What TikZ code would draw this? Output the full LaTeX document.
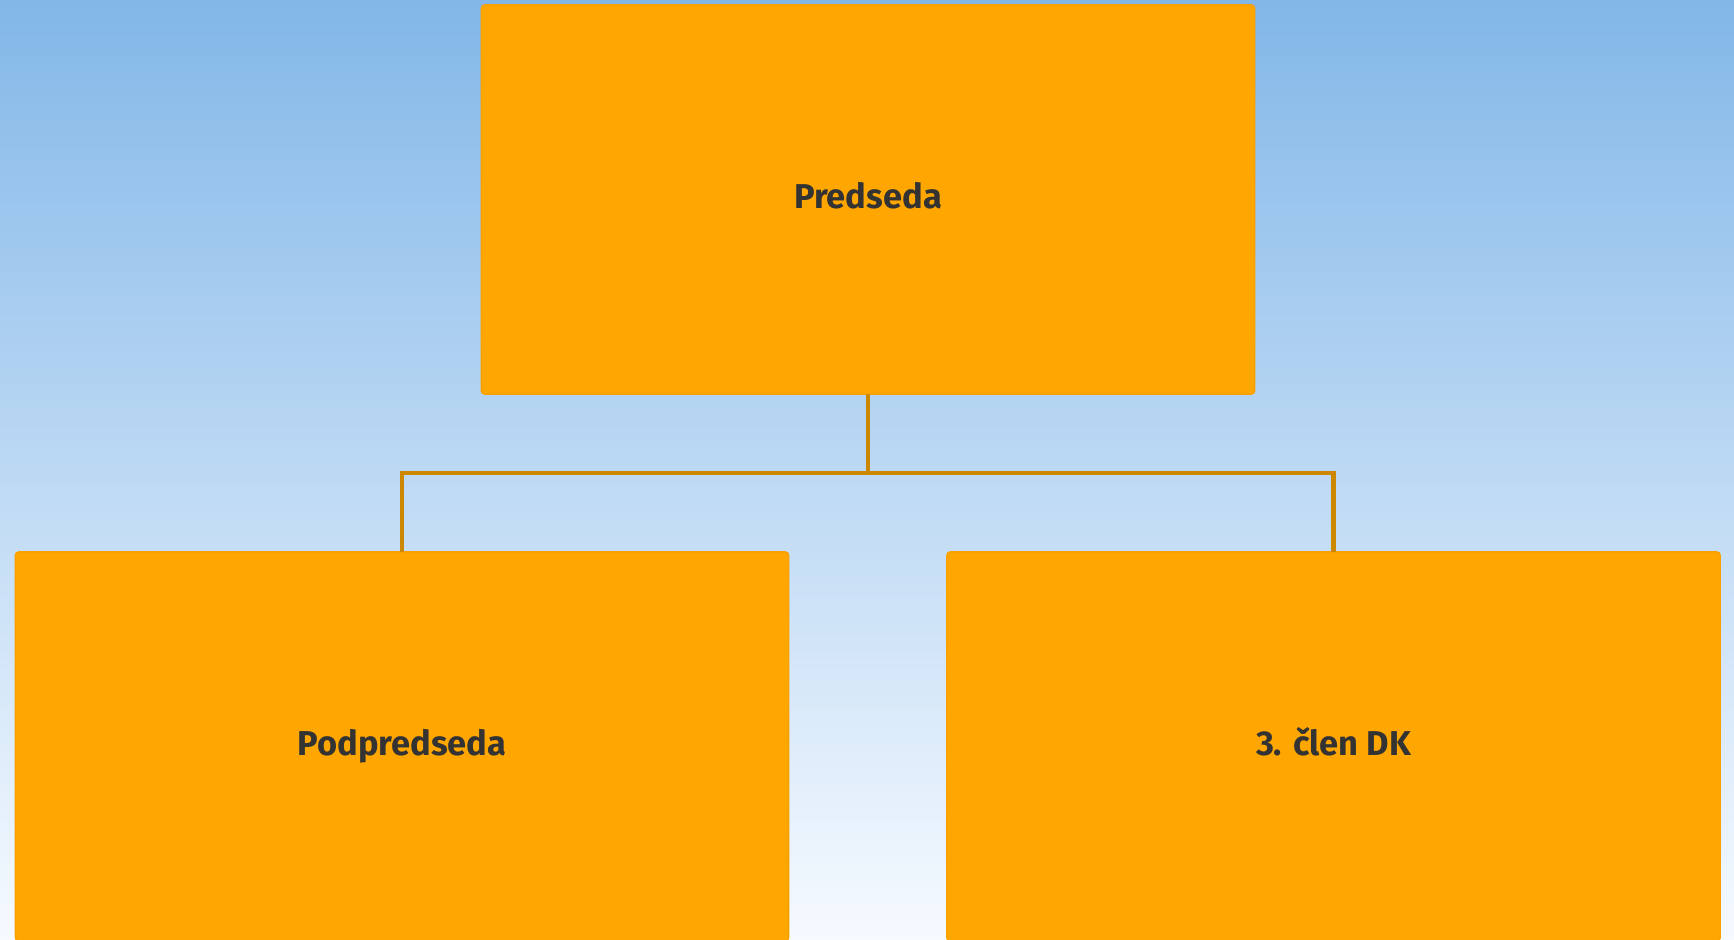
\documentclass[tikz,border=0pt]{standalone}
\usepackage{fontspec}
\setmainfont{Fira Sans}
\usepackage{tikz}
\usetikzlibrary{positioning, calc}
\definecolor{dkOrange}{RGB}{255,167,0}
\definecolor{dkEdge}{RGB}{250,160,0}
\definecolor{dkLink}{RGB}{204,136,0}
\definecolor{dkText}{RGB}{51,51,51}
\definecolor{skyTop}{RGB}{130,183,232}
\definecolor{skyBottom}{RGB}{246,250,255}

\begin{document}
\begin{tikzpicture}[
    x=0.01cm, y=-0.01cm,
    member/.style = {draw=dkEdge, fill=dkOrange, rounded corners=1pt,
                     line width=0.4pt, inner sep=0pt, outer sep=0pt,
                     minimum width=7.73cm, minimum height=3.89cm,
                     text height=7pt, text depth=2pt,
                     font=\fontsize{9.8}{11}\selectfont\bfseries,
                     text=dkText, align=center},
    link/.style   = {draw=dkLink, line width=1.4pt}
]

% Background sky gradient, also fixes the page size
\fill[top color=skyTop, bottom color=skyBottom]
    (0,0) rectangle (1734,939);
\useasboundingbox (0,0) rectangle (1734,939);

% Committee members
\node[member] (chair) at (868,199.5)   {Predseda};
\node[member] (vice)  at (402,746.5)   {Podpredseda};
\node[member] (third) at (1333.5,746.5) {3. člen DK};

% Tree connectors
\coordinate (bus) at (868,473);
\draw[link] (chair.south) -- (bus);
\draw[link] (bus) -| (vice.north);
\draw[link] (bus) -| (third.north);

\end{tikzpicture}
\end{document}
